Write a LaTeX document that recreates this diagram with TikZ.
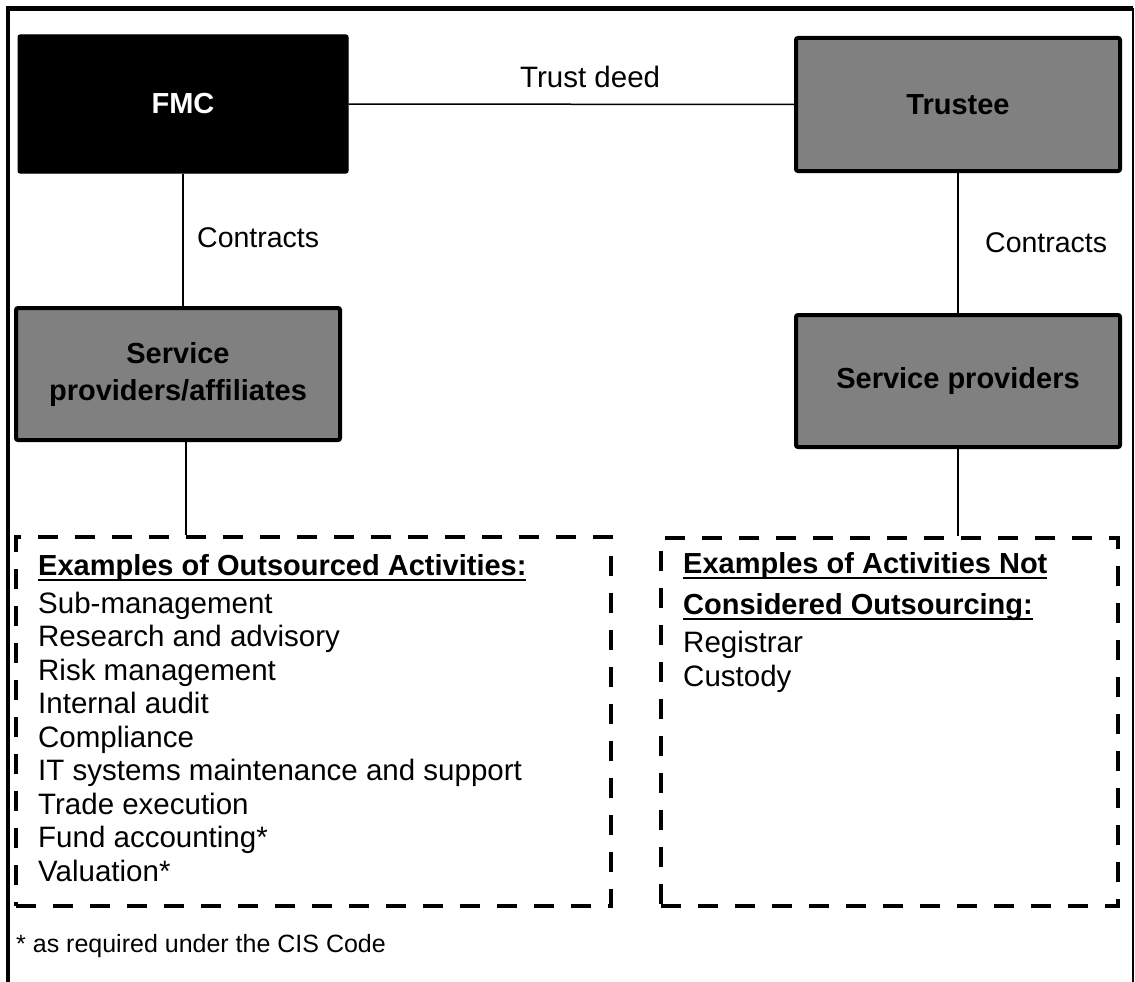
\documentclass[tikz,border=0pt]{standalone}
\usepackage{fontspec}
\setmainfont{Liberation Sans}
\newcommand\ulin[1]{\setbox0\hbox{#1}\rlap{\rule[-6pt]{\wd0}{2.5pt}}\box0}
\definecolor{boxgray}{RGB}{128,128,128}
\begin{document}
\begin{tikzpicture}[x=1pt,y=-1pt,
  darkbox/.style={fill=black, draw=black, line width=1pt, rounded corners=2pt,
    text=white, font=\bfseries\fontsize{29}{36}\selectfont, inner sep=0pt},
  graybox/.style={fill=boxgray, draw=black, line width=4pt, rounded corners=2pt,
    align=center, font=\bfseries\fontsize{29}{37}\selectfont, inner sep=0pt},
  dashbox/.style={draw=black, line width=4.5pt, dash pattern=on 20pt off 17pt, inner sep=0pt},
  link/.style={draw=black, line width=1.5pt},
  lbl/.style={font=\fontsize{28.5}{34}\selectfont, inner sep=0pt, anchor=base west},
  item/.style={font=\fontsize{29.5}{34}\selectfont, inner sep=0pt, anchor=base west},
  head/.style={font=\bfseries\fontsize{29}{34}\selectfont, inner sep=0pt, anchor=base west},
  note/.style={font=\fontsize{25}{29}\selectfont, inner sep=0pt, anchor=base west}]
\useasboundingbox (0,0) rectangle (1135,982);
% outer frame
\draw[line width=4.5pt] (8,982) -- (8,8.5) -- (1133,8.5);
\draw[line width=1.8pt] (1133,8.5) -- (1133,982);
% boxes
\node[darkbox, minimum width=330pt, minimum height=138pt] (fmc) at (183,104) {FMC};
\node[graybox, minimum width=324pt, minimum height=133pt] (trustee) at (958,104.5) {Trustee};
\node[graybox, minimum width=324pt, minimum height=132pt] (spa) at (178,374) {Service\\providers/affiliates};
\node[graybox, minimum width=324pt, minimum height=132pt] (sp) at (958,381) {Service providers};
% dashed boxes
\node[dashbox, minimum width=595pt, minimum height=369pt] (obox) at (313.5,721.5) {};
\node[dashbox, minimum width=457pt, minimum height=368pt] (nbox) at (889.5,722) {};
% connectors
\draw[link] (fmc.east) -- (trustee.west);
\draw[link] (fmc.south) -- (fmc.south |- spa.north);
\draw[link] ([xshift=8pt]spa.south) -- ([xshift=8pt]spa.south |- obox.north);
\draw[link] (trustee.south) -- (trustee.south |- sp.north);
\draw[link] (sp.south) -- (sp.south |- nbox.north);
% labels
\node[lbl, font=\fontsize{29.5}{34}\selectfont] (ltd) at (520,88) {Trust deed};
\node[lbl] (lc1) at (197,247) {Contracts};
\node[lbl] (lc2) at (985,252) {Contracts};
% left list
\node[head] (oh) at (38,575) {\ulin{Examples of Outsourced Activities:}};
\node[item] (o1) at (38,613) {Sub-management};
\node[item] (o2) at (38,646.5) {Research and advisory};
\node[item] (o3) at (38,680) {Risk management};
\node[item] (o4) at (38,713.5) {Internal audit};
\node[item] (o5) at (38,747) {Compliance};
\node[item] (o6) at (38,780.5) {IT systems maintenance and support};
\node[item] (o7) at (38,814) {Trade execution};
\node[item] (o8) at (38,847.5) {Fund accounting*};
\node[item] (o9) at (38,881) {Valuation*};
% right list
\node[head] (nh1) at (683,573) {\ulin{Examples of Activities Not}};
\node[head] (nh2) at (683,614) {\ulin{Considered Outsourcing:}};
\node[item] (n1) at (683,652) {Registrar};
\node[item] (n2) at (683,686) {Custody};
% footnote
\node[note] (fn) at (16,952) {* as required under the CIS Code};
\end{tikzpicture}
\end{document}
